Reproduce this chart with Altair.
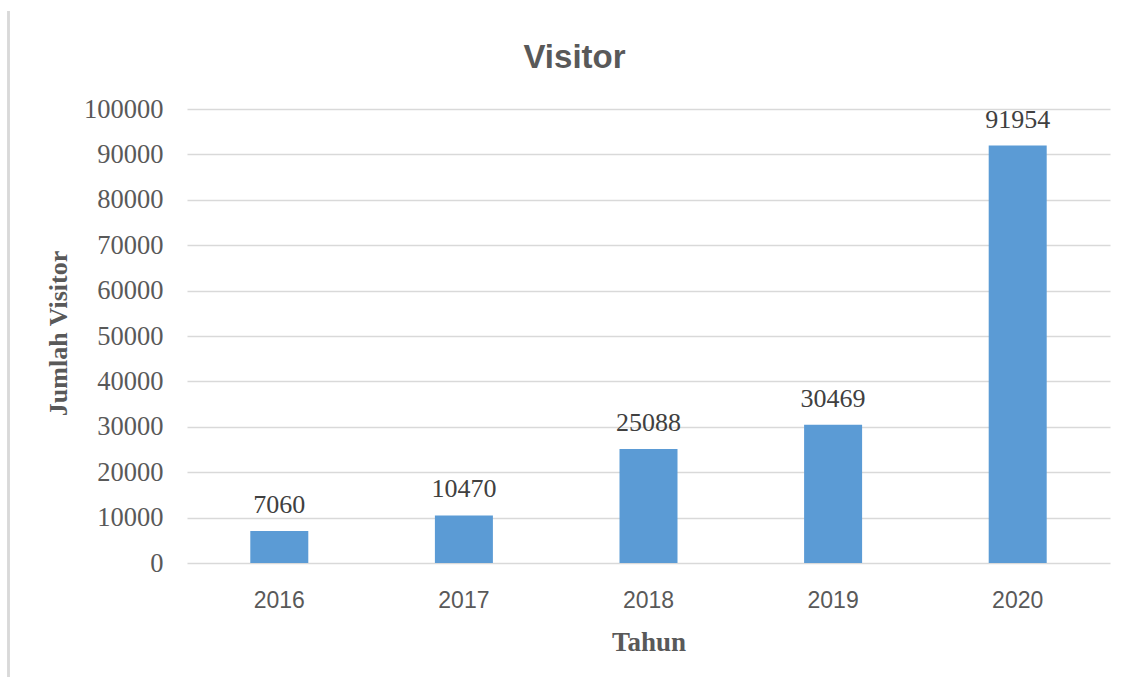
import altair as alt
import pandas as pd

years = ["2016", "2017", "2018", "2019", "2020"]
visitors = [7060, 10470, 25088, 30469, 91954]
y_ticks = [0, 10000, 20000, 30000, 40000, 50000, 60000, 70000, 80000, 90000, 100000]

df = pd.DataFrame({"Tahun": years, "Visitor": visitors})

W, H = 923, 454
LEFT, TOP = 187, 109

x_enc = alt.X(
    "Tahun:N",
    sort=years,
    scale=alt.Scale(paddingInner=0.0, paddingOuter=0.0),
    axis=alt.Axis(
        title="Tahun",
        labelAngle=0,
        labelFont="Liberation Sans",
        labelFontSize=23,
        labelColor="#595959",
        labelPadding=26,
        ticks=False,
        tickSize=0,
        domain=False,
        titleFont="Liberation Serif",
        titleFontWeight="bold",
        titleFontSize=27,
        titleColor="#595959",
        titleBaseline="alphabetic",
        titleX=W / 2,
        titleY=87,
        grid=False,
    ),
)

y_enc = alt.Y(
    "Visitor:Q",
    scale=alt.Scale(domain=[0, 100000], nice=False),
    axis=alt.Axis(
        title="Jumlah Visitor",
        values=y_ticks,
        format="d",
        labelFont="Liberation Serif",
        labelFontSize=26.5,
        labelColor="#595959",
        labelPadding=24,
        ticks=False,
        tickSize=0,
        domain=False,
        grid=True,
        gridColor="#D9D9D9",
        gridWidth=1.3,
        gridCap="butt",
        titleFont="Liberation Serif",
        titleFontWeight="bold",
        titleFontSize=26,
        titleColor="#595959",
        titleAngle=-90,
        titleAlign="center",
        titleBaseline="middle",
        titleX=58 - LEFT,
        titleY=H / 2 - 3,
    ),
)

base = alt.Chart(df)

bars = base.mark_bar(color="#5B9BD5", size=58).encode(x=x_enc, y=y_enc)

labels = base.mark_text(
    font="Liberation Serif",
    fontSize=26,
    color="#404040",
    baseline="alphabetic",
    align="center",
    dy=-18,
).encode(
    x=alt.X("Tahun:N", sort=years),
    y=alt.Y("Visitor:Q"),
    text="Visitor:Q",
)

border = base.mark_rule(color="#D9D9D9", strokeWidth=2).encode(
    x=alt.value(8.5 - LEFT), y=alt.value(11 - TOP), y2=alt.value(677 - TOP)
)

chart = (
    alt.layer(bars, labels, border)
    .properties(
        width=W,
        height=H,
        background="white",
        title=alt.TitleParams(
            "Visitor",
            font="Liberation Sans",
            fontSize=33,
            fontWeight="bold",
            color="#595959",
            anchor="middle",
            dx=-74,
            dy=121,
            baseline="alphabetic",
            offset=30,
        ),
        autosize=alt.AutoSizeParams(type="none"),
        padding={"left": LEFT, "top": TOP, "right": 1124 - LEFT - W, "bottom": 677 - TOP - H},
    )
    .configure_view(stroke="transparent", strokeWidth=0)
)

chart.save("out.html", embed_options={"renderer": "svg", "actions": False})
